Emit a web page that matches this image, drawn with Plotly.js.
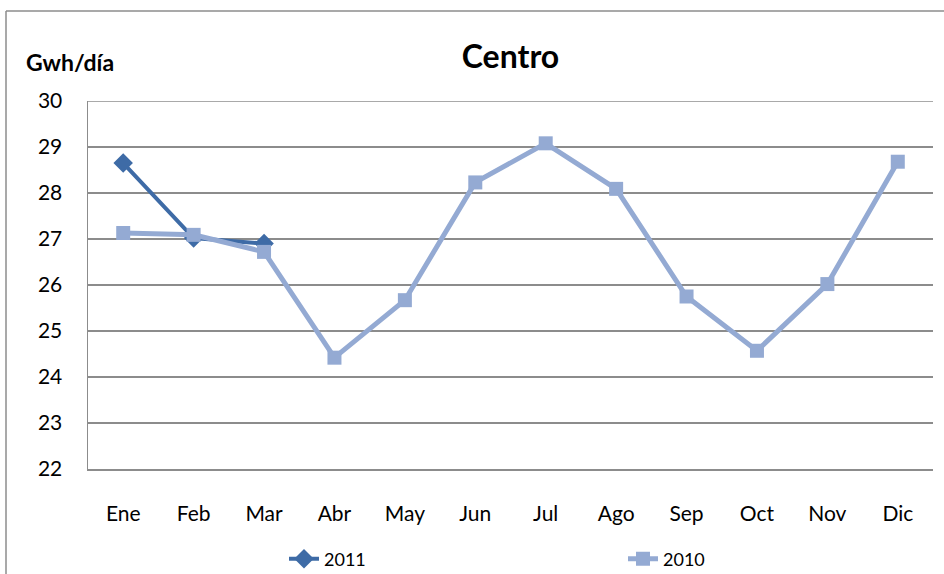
<!DOCTYPE html>
<html>
<head>
<meta charset="utf-8">
<script src="https://cdn.plot.ly/plotly-3.0.1.min.js"></script>
<style>
html,body{margin:0;padding:0;background:#fff;}
#chart{width:944px;height:574px;}
</style>
</head>
<body>
<div id="chart"></div>
<script>
const months = ["Ene","Feb","Mar","Abr","May","Jun","Jul","Ago","Sep","Oct","Nov","Dic"];
const months2011 = ["Ene","Feb","Mar"];
const values2011 = [28.65, 27.02, 26.90];
const values2010 = [27.13, 27.09, 26.72, 24.42, 25.67, 28.23, 29.08, 28.09, 25.75, 24.57, 26.02, 28.68];
const yTicks = [22,23,24,25,26,27,28,29,30];

const FONT = "Lato, 'Open Sans', sans-serif";
const GRID = "#8C8C8C";

const traces = [
  {
    name: "2011", x: months2011, y: values2011, type: "scatter", mode: "lines+markers",
    line: {color: "#3E6BA6", width: 4},
    marker: {symbol: "diamond", size: 15, color: "#3E6BA6"}
  },
  {
    name: "2010", x: months, y: values2010, type: "scatter", mode: "lines+markers",
    line: {color: "#94AAD3", width: 5},
    marker: {symbol: "square", size: 14, color: "#94AAD3"}
  }
];

const layout = {
  width: 944, height: 574,
  margin: {l: 88, r: 11, t: 101, b: 105, autoexpand: false},
  paper_bgcolor: "#fff", plot_bgcolor: "#fff",
  font: {family: FONT, color: "#000"},
  title: {text: "<b>Centro</b>", font: {size: 32, family: FONT, color: "#000"},
          x: 0.5, xref: "paper", xanchor: "center", y: 1 - 57/574, yref: "container", yanchor: "middle"},
  showlegend: true,
  legend: {orientation: "h", x: 284/944, xref: "container", xanchor: "left",
           y: 1 - 559/574, yref: "container", yanchor: "middle",
           entrywidth: 294, entrywidthmode: "pixels", font: {size: 18, family: FONT},
           traceorder: "normal", bgcolor: "rgba(0,0,0,0)"},
  xaxis: {
    type: "category", categoryorder: "array", categoryarray: months,
    range: [-0.5, 11.5], showgrid: false, zeroline: false,
    showline: true, linecolor: GRID, linewidth: 1.5,
    ticks: "", tickfont: {size: 21, family: FONT}, ticklabelstandoff: 25, fixedrange: true
  },
  yaxis: {
    range: [22, 30], tickvals: yTicks, ticktext: yTicks.map(String),
    showgrid: true, gridcolor: GRID, gridwidth: 1.5, zeroline: false,
    showline: true, linecolor: GRID, linewidth: 1.5, ticks: "",
    tickfont: {size: 21, family: FONT}, ticklabelstandoff: 20, fixedrange: true
  },
  annotations: [
    {text: "<b>Gwh/día</b>", xref: "paper", yref: "paper", x: (24-88)/845, y: (469-62)/368,
     xanchor: "left", yanchor: "middle", showarrow: false, font: {size: 23, family: FONT, color: "#000"}}
  ],
  shapes: [
    {type: "line", xref: "paper", yref: "y", x0: 0, x1: 1, y0: 30, y1: 30,
     line: {color: GRID, width: 1.5}, layer: "below"},
    {type: "line", xref: "paper", yref: "paper", x0: (6-88)/845, x1: (6-88)/845, y0: -1, y1: (469-11)/368,
     line: {color: GRID, width: 1.5}},
    {type: "line", xref: "paper", yref: "paper", x0: (6-88)/845, x1: 1.1, y0: (469-11)/368, y1: (469-11)/368,
     line: {color: GRID, width: 1.5}}
  ]
};

Plotly.newPlot("chart", traces, layout, {displayModeBar: false, staticPlot: true});
</script>
</body>
</html>
